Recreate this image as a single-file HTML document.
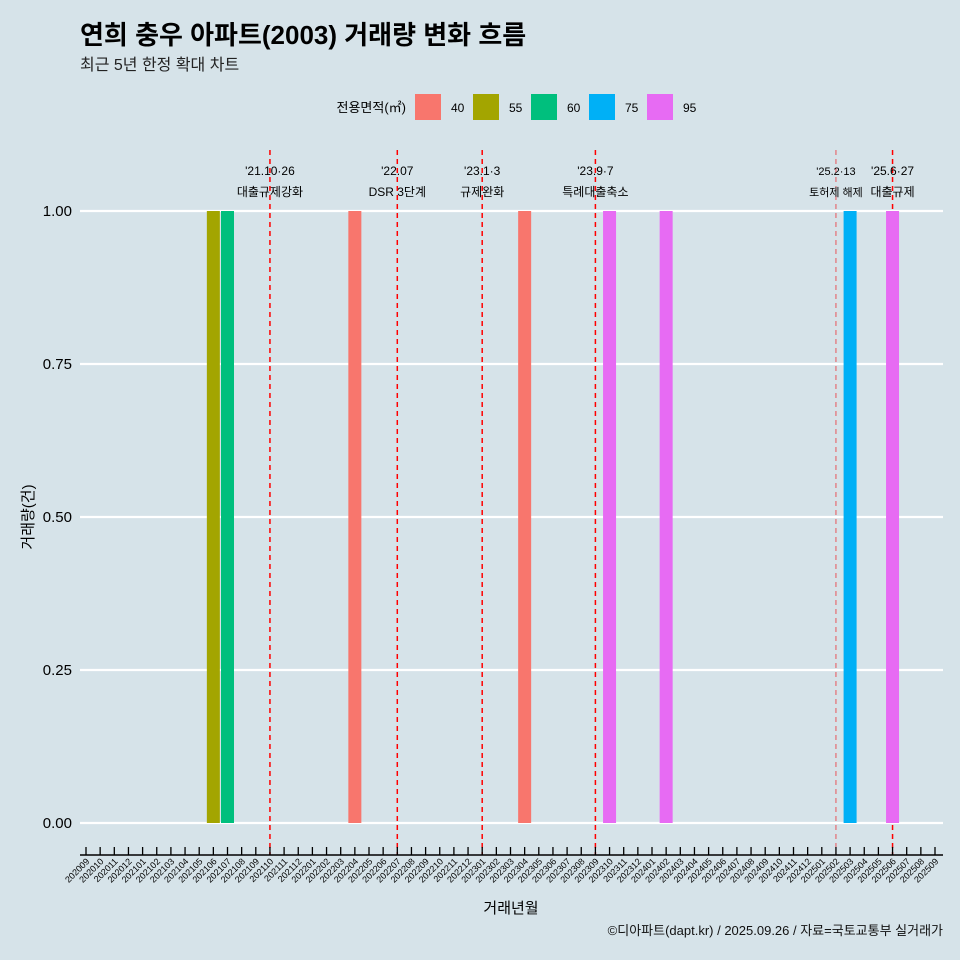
<!DOCTYPE html>
<html><head><meta charset="utf-8"><style>
body{margin:0;background:#d6e3e9;}
svg{display:block;font-family:"Liberation Sans","Noto Sans CJK KR",sans-serif;}
</style></head><body>
<svg id="c" width="960" height="960" viewBox="0 0 960 960">
<rect width="960" height="960" fill="#d6e3e9"/>
<text x="80" y="44" font-size="26" font-weight="bold" fill="#000">연희 충우 아파트(2003) 거래량 변화 흐름</text>
<text x="80" y="70" font-size="16" fill="#222">최근 5년 한정 확대 차트</text>
<g id="legend"><text x="406" y="112" font-size="13" text-anchor="end">전용면적(㎡)</text></g>
<g id="grid"></g><g id="vl"></g><g id="bars"></g><g id="axis"></g>
<text x="943" y="935" font-size="13" text-anchor="end" fill="#111">©디아파트(dapt.kr) / 2025.09.26 / 자료=국토교통부 실거래가</text>
<text x="511" y="913" font-size="15" text-anchor="middle">거래년월</text>
<text x="0" y="0" font-size="15" text-anchor="middle" transform="translate(33,517) rotate(-90)">거래량(건)</text>
</svg>
<script>
const months=[];for(let y=2020;y<=2025;y++)for(let m=1;m<=12;m++){const k=y*100+m;if(k>=202009&&k<=202509)months.push(String(k));}
const barMonths=["202106","202107","202204","202304","202310","202402","202503","202506"];
const barAreas=["55","60","40","40","95","95","75","95"];
const barValues=[1,1,1,1,1,1,1,1];
const areas=["40","55","60","75","95"];
const areaColors=["#f8766d","#a3a500","#00bf7d","#00b0f6","#e76bf3"];
const yTicks=[0,0.25,0.5,0.75,1];
const yTickLabels=["0.00","0.25","0.50","0.75","1.00"];
const events=["202110","202207","202301","202309","202502","202506"];
const eventLine1=["'21.10·26","'22.07","'23.1·3","'23.9·7","'25.2·13","'25.6·27"];
const eventLine2=["대출규제강화","DSR 3단계","규제완화","특례대출축소","토허제 해제","대출규제"];
const NS="http://www.w3.org/2000/svg";
const xs=i=>86+i*(849/60);
const xm=m=>xs(months.indexOf(m));
const ys=v=>823-v*612;
function mk(p,t,a){const e=document.createElementNS(NS,t);for(const k in a)e.setAttribute(k,a[k]);document.getElementById(p).appendChild(e);return e;}
yTicks.forEach((v,i)=>{
 const l=mk("grid","line",{x1:80,x2:943,y1:ys(v),y2:ys(v),stroke:"#fff","stroke-width":2.2});
 
 
 const t=mk("grid","text",{x:72,y:ys(v)+5,"font-size":15,"text-anchor":"end"});t.textContent=yTickLabels[i];
 
 
});
barMonths.forEach((m,i)=>{
 const c=areaColors[areas.indexOf(barAreas[i])];
 const r=mk("bars","rect",{x:xm(m)-6.5,y:ys(barValues[i]),width:13,height:ys(0)-ys(barValues[i]),fill:c});
 
 
});
events.forEach((m,i)=>{
 const x=xm(m);const light=m==="202502";
 const l=mk("vl","line",{x1:x,x2:x,y1:150,y2:855,stroke:light?"#e8555a":"#f00","stroke-width":light?1:1.5,"stroke-dasharray":"5,4"});
 
 
 const fs=light?11:12;
 const a=mk("vl","text",{x:x,y:175,"font-size":fs,"text-anchor":"middle"});a.textContent=eventLine1[i];
 
 
 const b=mk("vl","text",{x:x,y:196,"font-size":fs,"text-anchor":"middle"});b.textContent=eventLine2[i];
 
 
});
const ax=mk("axis","line",{x1:80,x2:943,y1:855,y2:855,stroke:"#000","stroke-width":1.5});


months.forEach((m,i)=>{
 const x=xs(i);
 const t=mk("axis","line",{x1:x,x2:x,y1:847,y2:855,stroke:"#000","stroke-width":1.3});
 
 
 const l=mk("axis","text",{x:0,y:0,"font-size":9,"text-anchor":"end",transform:`translate(${x+4},${862}) rotate(-45)`});l.textContent=m;
 
 
});
areas.forEach((a,i)=>{
 const x=415+i*58;
 const r=mk("legend","rect",{x:x,y:94,width:26,height:26,fill:areaColors[i]});
 
 
 const t=mk("legend","text",{x:x+36,y:112,"font-size":12});t.textContent=a;
 
 
});
</script>
</body></html>
